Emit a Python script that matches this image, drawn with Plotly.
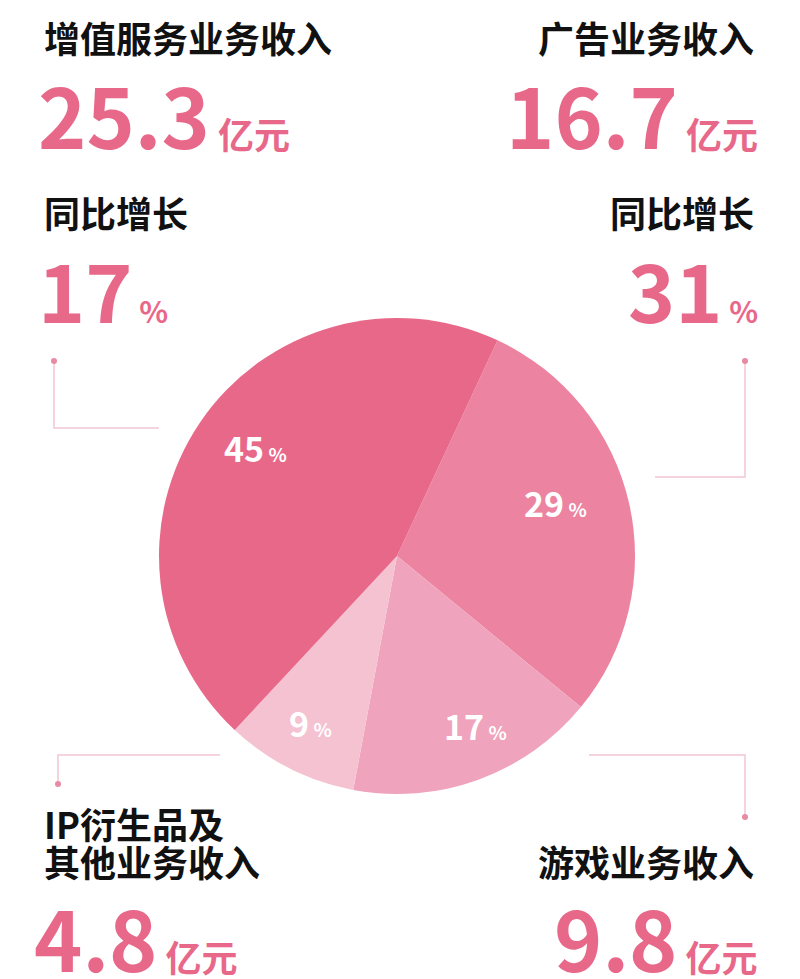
import plotly.graph_objects as go

labels = ["广告业务收入", "游戏业务收入", "IP衍生品及其他业务收入", "增值服务业务收入"]
shares = [29, 17, 9, 45]
colors = ["#EC83A1", "#F0A3BC", "#F5C2D2", "#E8688A"]
titles = ["增值服务业务收入", "广告业务收入", "IP衍生品及", "其他业务收入", "游戏业务收入"]
amounts = ["25.3", "16.7", "4.8", "9.8"]
growth_titles = ["同比增长", "同比增长"]
growth = ["17", "31"]

F = "Noto Sans CJK SC"
PINK = "#E8688A"
W, H = 800, 979
O = 8  # page body offset

def px(x): return (x - O) / W
def py(y): return 1 - (y - O) / H

fig = go.Figure(go.Pie(
    labels=labels, values=shares, sort=False, direction="clockwise",
    rotation=25, marker=dict(colors=colors, line=dict(width=0)),
    textinfo="none", hoverinfo="skip",
    domain=dict(x=[px(159), px(635)], y=[py(794), py(318)]), showlegend=False))

ann = []
def txt(x, y, s, size, color, anchor):
    ann.append(dict(x=px(x), y=py(y), xref="paper", yref="paper", text=s, showarrow=False,
                    xanchor=anchor, yanchor="middle", align=anchor,
                    font=dict(family=F, size=size, color=color)))
def num(v, unit, us=36):
    return f"<b>{v}</b><span style='font-size:{us}px'><b> {unit}</b></span>"

# pie labels
label_pos = [(555, 502), (475, 725), (310, 722), (255, 447)]
for (x, y), s in zip(label_pos, shares):
    txt(x, y, f"<b>{s}</b><span style='font-size:19px'><b> %</b></span>", 34, "white", "center")

txt(42, 37, "<b>"+titles[0]+"</b>", 36, "#111", "left")
txt(756, 37, "<b>"+titles[1]+"</b>", 36, "#111", "right")
txt(36, 113, num(amounts[0], "亿元"), 82, PINK, "left")
txt(760, 113, num(amounts[1], "亿元"), 82, PINK, "right")
txt(42, 212, "<b>"+growth_titles[0]+"</b>", 36, "#111", "left")
txt(756, 212, "<b>"+growth_titles[1]+"</b>", 36, "#111", "right")
txt(36, 288, num(growth[0], "%", 30), 80, PINK, "left")
txt(760, 288, num(growth[1], "%", 30), 80, PINK, "right")
txt(42, 823, "<b>"+titles[2]+"</b>", 36, "#111", "left")
txt(42, 861, "<b>"+titles[3]+"</b>", 36, "#111", "left")
txt(756, 861, "<b>"+titles[4]+"</b>", 36, "#111", "right")
txt(32, 936, num(amounts[2], "亿元"), 82, PINK, "left")
txt(760, 936, num(amounts[3], "亿元"), 82, PINK, "right")
fig.update_layout(annotations=ann)

LC = "#F2C6D2"
shapes = []
def path(pts):
    d = "M " + " L ".join(f"{x},{y}" for x, y in pts)
    shapes.append(dict(type="path", path=d, xref="x", yref="y", line=dict(color=LC, width=1.5)))
def dot(x, y):
    shapes.append(dict(type="circle", xref="x", yref="y", x0=x-3, x1=x+3, y0=y-3, y1=y+3,
                       fillcolor="#E98AA4", line=dict(width=0)))
path([(54, 361), (54, 428), (159, 428)]); dot(54, 361)
path([(745, 361), (745, 477), (655, 477)]); dot(745, 361)
path([(220, 755), (58, 755), (58, 784)]); dot(58, 784)
path([(589, 755), (745, 755), (745, 817)]); dot(745, 817)

fig.update_layout(shapes=shapes, width=W, height=H, margin=dict(l=0, r=0, t=0, b=0),
                  paper_bgcolor="white", plot_bgcolor="rgba(0,0,0,0)",
                  xaxis=dict(range=[O, W + O], visible=False, fixedrange=True),
                  yaxis=dict(range=[H + O, O], visible=False, fixedrange=True))
fig.write_html("out.html")
